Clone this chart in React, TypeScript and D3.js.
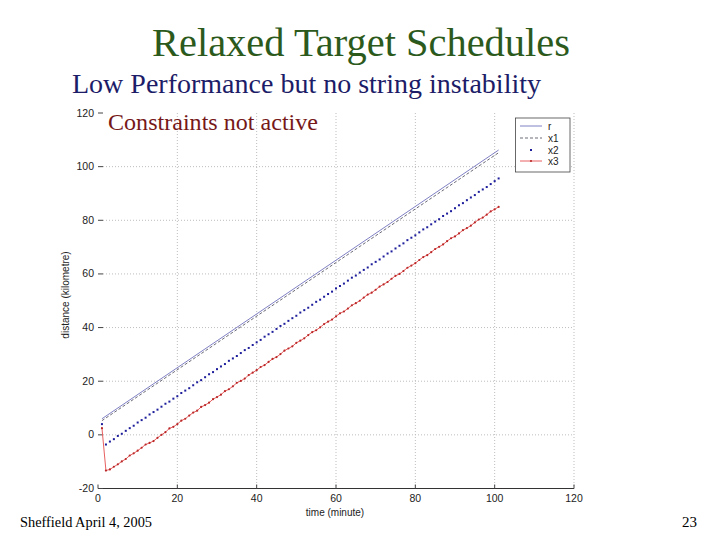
import React from "react";
import * as d3 from "d3";

// ---- data ----
const xTicks = [0, 20, 40, 60, 80, 100, 120];
const yTicks = [-20, 0, 20, 40, 60, 80, 100, 120];

const rTimes = [1, 101];
const rValues = [6.0, 106.2];

const x1Times = [1, 101];
const x1Values = [5.3, 105.2];

const minutes = d3.range(1, 102); // 1..101 minutes sampling

const x2Values = [
  4.0, -3.6, -2.5, -1.6, -0.4, 0.4, 1.5, 2.5, 3.4, 4.6,
  5.5, 6.4, 7.6, 8.5, 9.4, 10.5, 11.6, 12.4, 13.5, 14.4,
  15.6, 16.5, 17.4, 18.5, 19.6, 20.4, 21.5, 22.6, 23.4, 24.5,
  25.5, 26.4, 27.6, 28.5, 29.4, 30.5, 31.6, 32.4, 33.5, 34.5,
  35.4, 36.6, 37.5, 38.4, 39.5, 40.6, 41.4, 42.5, 43.5, 44.4,
  45.6, 46.5, 47.4, 48.5, 49.6, 50.4, 51.5, 52.5, 53.4, 54.6,
  55.5, 56.4, 57.5, 58.6, 59.4, 60.5, 61.5, 62.4, 63.6, 64.5,
  65.4, 66.5, 67.6, 68.4, 69.5, 70.5, 71.4, 72.6, 73.5, 74.4,
  75.5, 76.6, 77.4, 78.5, 79.5, 80.4, 81.6, 82.5, 83.4, 84.5,
  85.6, 86.4, 87.5, 88.5, 89.4, 90.6, 91.5, 92.4, 93.5, 94.6,
  95.6,
];

const x3Values = [
  2.5, -13.3, -12.9, -11.9, -11.0, -9.9, -9.0, -7.7, -6.9, -5.9,
  -4.8, -3.6, -3.0, -2.3, -1.1, 0.0, 1.0, 2.4, 3.0, 4.0,
  5.3, 6.0, 7.2, 8.3, 9.0, 10.4, 11.1, 12.0, 13.3, 14.1,
  15.0, 16.3, 17.0, 18.1, 19.4, 20.1, 21.0, 22.3, 23.2, 24.1,
  25.3, 26.0, 27.2, 28.3, 29.0, 30.1, 31.4, 32.2, 33.0, 34.3,
  35.1, 36.0, 37.2, 38.3, 39.0, 40.1, 41.3, 42.2, 43.0, 44.2,
  45.3, 46.0, 47.1, 48.3, 49.1, 50.0, 51.2, 52.3, 53.0, 54.1,
  55.3, 56.1, 57.0, 58.2, 59.3, 60.0, 61.1, 62.3, 63.1, 64.0,
  65.2, 66.3, 67.0, 68.1, 69.3, 70.1, 71.0, 72.2, 73.3, 74.0,
  75.1, 76.3, 77.1, 78.0, 79.2, 80.3, 81.0, 82.1, 83.3, 84.1,
  85.0,
];

const legendLabels = ["r", "x1", "x2", "x3"];

// ---- layout ----
const X0 = 98, X1 = 574, Y0 = 488.5, Y1 = 113;

export default function App() {
  const x = d3.scaleLinear().domain([0, 120]).range([X0, X1]);
  const y = d3.scaleLinear().domain([-20, 120]).range([Y0, Y1]);
  const line = d3
    .line<[number, number]>()
    .x((d) => x(d[0]))
    .y((d) => y(d[1]));

  const rPts = rTimes.map((t, i) => [t, rValues[i]] as [number, number]);
  const x1Pts = x1Times.map((t, i) => [t, x1Values[i]] as [number, number]);
  const x2Pts = minutes.map((t, i) => [t, x2Values[i]] as [number, number]);
  const x3Pts = minutes.map((t, i) => [t, x3Values[i]] as [number, number]);

  const sans = "'Liberation Sans', Arial, sans-serif";
  const serif = "'Liberation Serif', 'Times New Roman', serif";
  const gridColor = "#bdbdbd";

  const legX = 515.5, legY = 118, legW = 54.5, legH = 54;
  const legRows = [126, 138, 150, 161];

  return (
    <svg
      width={720}
      height={540}
      style={{ position: "absolute", left: 0, top: 0, background: "#fff" }}
    >
      <rect x={0} y={0} width={720} height={540} fill="#fff" />

      {/* Titles */}
      <text x={361} y={56} textAnchor="middle" fontFamily={serif} fontSize={40}
        fill="#2c5a1c" textLength={418} lengthAdjust="spacingAndGlyphs">
        Relaxed Target Schedules
      </text>
      <text x={72} y={93} fontFamily={serif} fontSize={28} fill="#1c1c68"
        textLength={469} lengthAdjust="spacingAndGlyphs">
        Low Performance but no string instability
      </text>

      {/* grid */}
      {xTicks.filter((t) => t > 0).map((t) => (
        <line key={"gx" + t} x1={x(t)} x2={x(t)} y1={Y1} y2={Y0}
          stroke={gridColor} strokeWidth={1} strokeDasharray="1,2" />
      ))}
      {yTicks.filter((t) => t > -20 && t < 120).map((t) => (
        <line key={"gy" + t} x1={X0 + 5} x2={X1} y1={y(t)} y2={y(t)}
          stroke={gridColor} strokeWidth={1} strokeDasharray="1,2" />
      ))}

      {/* axes */}
      <line x1={X0} x2={X1} y1={Y0} y2={Y0} stroke="#333" strokeWidth={1.2} />
      {yTicks.map((t) => (
        <g key={"yt" + t}>
          <line x1={X0} x2={X0 + 5} y1={y(t)} y2={y(t)} stroke="#444" strokeWidth={1} />
          <text x={94} y={y(t) + 3.5} textAnchor="end" fontFamily={sans}
            fontSize={10.5} fill="#222">
            {t}
          </text>
        </g>
      ))}
      {xTicks.map((t) => (
        <g key={"xt" + t}>
          <line x1={x(t)} x2={x(t)} y1={Y0} y2={Y0 - 4} stroke="#444" strokeWidth={1} />
          <text x={x(t)} y={502} textAnchor="middle" fontFamily={sans}
            fontSize={10.5} fill="#222">
            {t}
          </text>
        </g>
      ))}
      <text x={335} y={516} textAnchor="middle" fontFamily={sans} fontSize={10}
        fill="#222">
        time (minute)
      </text>
      <text transform="translate(69,295) rotate(-90)" textAnchor="middle"
        fontFamily={sans} fontSize={10} fill="#222">
        distance (kilometre)
      </text>

      {/* series */}
      <path d={line(rPts) || ""} fill="none" stroke="#8080c4" strokeWidth={1} />
      <path d={line(x1Pts) || ""} fill="none" stroke="#6a6a78" strokeWidth={1}
        strokeDasharray="3,2" />
      {x2Pts.map((p, i) => (
        <rect key={"b" + i} x={x(p[0]) - 1} y={y(p[1]) - 1} width={2}
          height={2} fill="#1e1e9c" />
      ))}
      <path d={line(x3Pts) || ""} fill="none" stroke="#e86060" strokeWidth={1} />
      {x3Pts.map((p, i) => (
        <circle key={"rm" + i} cx={x(p[0])} cy={y(p[1])} r={1.1} fill="#b82828" />
      ))}

      {/* annotation */}
      <text x={108} y={130} fontFamily={serif} fontSize={24} fill="#761818"
        textLength={210} lengthAdjust="spacingAndGlyphs">
        Constraints not active
      </text>

      {/* legend */}
      <rect x={legX} y={legY} width={legW} height={legH} fill="#fff"
        stroke="#444" strokeWidth={0.8} />
      <line x1={520} x2={542} y1={legRows[0]} y2={legRows[0]} stroke="#8080c4" strokeWidth={1} />
      <line x1={520} x2={542} y1={legRows[1]} y2={legRows[1]} stroke="#6a6a78"
        strokeWidth={1} strokeDasharray="3,2" />
      <rect x={530} y={legRows[2] - 1} width={2} height={2} fill="#1e1e9c" />
      <line x1={520} x2={542} y1={legRows[3]} y2={legRows[3]} stroke="#e86060" strokeWidth={1} />
      <circle cx={531} cy={legRows[3]} r={1.1} fill="#b82828" />
      {legendLabels.map((l, i) => (
        <text key={l} x={548} y={legRows[i] + 3.5} fontFamily={sans} fontSize={10}
          fill="#222">
          {l}
        </text>
      ))}

      {/* footer */}
      <text x={20} y={527} fontFamily={serif} fontSize={15} fill="#000"
        textLength={132} lengthAdjust="spacingAndGlyphs">
        Sheffield April 4, 2005
      </text>
      <text x={697} y={527} textAnchor="end" fontFamily={serif} fontSize={15}
        fill="#000">
        23
      </text>
    </svg>
  );
}
